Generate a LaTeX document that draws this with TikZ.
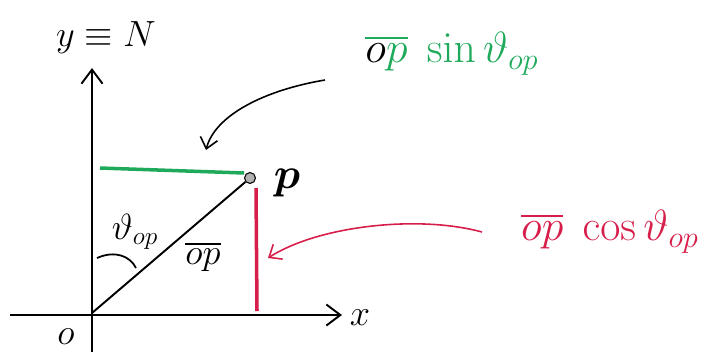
\documentclass[tikz,border=0pt]{standalone}
\usepackage{amsmath}
\usetikzlibrary{arrows.meta}
\definecolor{gr}{RGB}{30,170,90}
\definecolor{rd}{RGB}{215,30,75}
\begin{document}
\begin{tikzpicture}[x=0.02cm,y=-0.02cm,
  axis/.style={line width=1.1pt,black,-{Straight Barb[length=8pt,width=12pt]}},
  pointer/.style={line width=0.9pt,-{Straight Barb[length=6pt,width=10pt]}},
  biglbl/.style={inner sep=1pt,font=\fontsize{21}{25}\selectfont},
  hugelbl/.style={inner sep=1pt,font=\fontsize{26}{30}\selectfont}]
\useasboundingbox (0,0) rectangle (719,359);
% axes
\coordinate (ybot) at (92,352);
\coordinate (ytop) at (92,68);
\coordinate (xl) at (10,315);
\coordinate (xr) at (342,315);
\draw[axis] (ybot) -- (ytop);
\draw[axis] (xl) -- (xr);
\node[biglbl] (ylab) at (106,38) {$y\equiv N$};
\node[biglbl] (xlab) at (360,318) {$x$};
\node[biglbl] (olab) at (66,337) {$o$};
% origin and point
\coordinate (O) at (92,313);
\node[circle,draw,fill=gray!60,inner sep=2.2pt,line width=0.6pt] (P) at (250,178) {};
\node[hugelbl] (plab) at (287,183) {$\boldsymbol{p}$};
\draw[line width=1.1pt] (O) -- (P);
% projections
\coordinate (g1) at (100,168);
\coordinate (g2) at (244,173);
\draw[gr,line width=2pt] (g1) -- (g2);
\coordinate (r1) at (256,188);
\coordinate (r2) at (257,311);
\draw[rd,line width=2pt] (r1) -- (r2);
% angle
\coordinate (a1) at (97,258);
\coordinate (a2) at (136,268);
\draw[line width=1pt] (a1) .. controls (115,250) and (130,256) .. (a2);
\node[biglbl] (th) at (135,232) {$\vartheta_{op}$};
\node[biglbl] (oplab) at (203,257) {$\overline{op}$};
% labels
\node[hugelbl,text=gr] (sinlab) at (452,54) {$\overline{{\color{black}o}p}\;\sin\vartheta_{op}$};
\node[hugelbl,text=rd] (coslab) at (610,232) {$\overline{op}\;\cos\vartheta_{op}$};
% pointers
\coordinate (s0) at (325,80);
\coordinate (sa) at (206,150);
\draw[pointer,black] (s0) .. controls (265,90) and (215,115) .. (sa);
\coordinate (c0) at (482,232);
\coordinate (ra) at (268,258);
\draw[pointer,rd] (c0) .. controls (420,215) and (320,225) .. (ra);
\end{tikzpicture}
\end{document}
